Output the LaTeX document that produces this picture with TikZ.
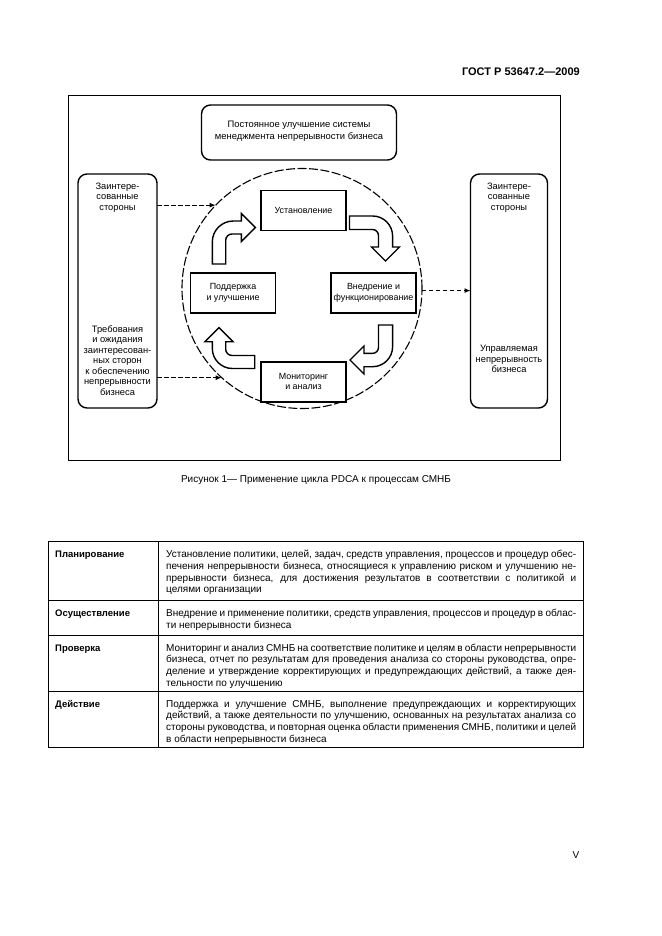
\documentclass[tikz,border=0pt]{standalone}
\usepackage{fontspec}
\setmainfont{Liberation Sans}
\usetikzlibrary{arrows.meta,calc}
\newcommand\dgfont{\fontsize{9.3}{10.5}\selectfont}
\newcommand\pbfont{\fontsize{8.9}{10.5}\selectfont}
\newcommand\tbfont{\fontsize{10}{12}\selectfont}
\begin{document}
\begin{tikzpicture}[x=1pt,y=-1pt,
  rbox/.style={draw, line width=1.4pt, rounded corners=9pt, inner sep=0pt, outer sep=0pt},
  pbox/.style={draw, line width=1.8pt, minimum width=85pt, minimum height=40pt, inner sep=0pt, align=center, font=\pbfont},
  blockarrow/.style={draw, line width=1.4pt, fill=white, line join=miter},
  dasharrow/.style={line width=1.1pt, dash pattern=on 4.5pt off 2.5pt, -{Latex[length=6pt,width=5pt]}},
  lbl/.style={inner sep=0pt, align=center, font=\dgfont},
  tline/.style={inner sep=0pt, anchor=base west, font=\tbfont},
  thead/.style={inner sep=0pt, anchor=base west, font=\fontsize{9.5}{12}\selectfont\bfseries}
]
\useasboundingbox (0,0) rectangle (661,936);
% header
\node[inner sep=0pt, anchor=east, font=\fontsize{11}{13}\selectfont\bfseries] (hdr) at (580,72) {ГОСТ Р 53647.2—2009};
% frame
\draw[line width=0.9pt] (68,95) rectangle (560,460);
% top box
\node[rbox, minimum width=195pt, minimum height=55pt] (top) at (299,132.5) {};
\node[lbl, font=\fontsize{9.4}{11.7}\selectfont] (toptext) at (299,131.5) {Постоянное улучшение системы\\менеджмента непрерывности бизнеса};
% side boxes
\node[rbox, minimum width=79pt, minimum height=234pt] (lbox) at (117.5,291) {};
\node[rbox, minimum width=77pt, minimum height=234pt] (rbox) at (509,291) {};
\node[lbl] (lt1) at (117.5,197.5) {Заинтере-\\сованные\\стороны};
\node[lbl] (lt2) at (117.5,360.2) {Требования\\и ожидания\\заинтересован-\\ных сторон\\к обеспечению\\непрерывности\\бизнеса};
\node[lbl] (rt1) at (509,197.5) {Заинтере-\\сованные\\стороны};
\node[lbl] (rt2) at (509,359.2) {Управляемая\\непрерывность\\бизнеса};
% circle
\node[circle, draw, line width=1.1pt, dash pattern=on 9pt off 2.5pt, minimum size=240pt, inner sep=0pt, outer sep=0pt] (circ) at (302,288.5) {};
% process boxes
\node[pbox] (plan) at (303.5,210.5) {Установление};
\node[pbox] (do) at (373.5,292.8) {Внедрение и\\функционирование};
\node[pbox] (act) at (233,292.8) {Поддержка\\и улучшение};
\node[pbox] (check) at (303.5,381.7) {Мониторинг\\и анализ};
% block arrows
\draw[blockarrow] (212.3,264) -- (212.3,242) .. controls (212.3,230.4) and (221.7,221) .. (233.3,221) -- (241.3,221) -- (241.3,213.5) -- (255.4,227.5) -- (241.3,241.5) -- (241.3,234) -- (232,234) .. controls (228.5,234) and (225.7,236.8) .. (225.7,240.3) -- (225.7,264) -- cycle;
\draw[blockarrow] (349.5,216) -- (372.6,216) .. controls (383.6,216) and (392.6,225) .. (392.6,236) -- (392.6,247) -- (399.5,247) -- (385.5,261) -- (371.5,247) -- (378.5,247) -- (378.5,235.5) .. controls (378.5,232.2) and (375.8,229.5) .. (372.5,229.5) -- (349.5,229.5) -- cycle;
\draw[blockarrow] (378.5,325) -- (392.6,325) -- (392.6,346.7) .. controls (392.6,357.7) and (383.6,366.7) .. (372.6,366.7) -- (364,366.7) -- (364,374) -- (350,360) -- (364,346) -- (364,353.4) -- (372.5,353.4) .. controls (375.8,353.4) and (378.5,350.7) .. (378.5,347.4) -- cycle;
\draw[blockarrow] (254.7,355.5) -- (232,355.5) .. controls (228.5,355.5) and (225.7,352.7) .. (225.7,349.2) -- (225.7,341.7) -- (233,341.7) -- (219,327.7) -- (205,341.7) -- (212.3,341.7) -- (212.3,348.5) .. controls (212.3,359.5) and (221.3,368.5) .. (232.3,368.5) -- (254.7,368.5) -- cycle;
% dashed connectors
\draw[dasharrow] (lbox.east |- circ.136) -- (circ.136);
\draw[dasharrow] (lbox.east |- circ.228) -- (circ.228);
\draw[dasharrow] (circ.-1) -- (circ.-1 -| rbox.west);
% caption
\node[inner sep=0pt, font=\fontsize{10}{12}\selectfont] (cap) at (316,480) {Рисунок 1— Применение цикла PDCA к процессам СМНБ};
% table
\draw[line width=0.9pt] (48,541) rectangle (583,747);
\draw[line width=0.9pt] (48,600) -- (583,600) (48,635) -- (583,635) (48,691) -- (583,691) (158,541) -- (158,747);
\node[thead] (h1) at (55,557.5) {Планирование};
\node[thead] (h2) at (55,616.5) {Осуществление};
\node[thead] (h3) at (55,651) {Проверка};
\node[thead] (h4) at (55,707) {Действие};
\node[tline] (a1) at (166,557.5) {\makebox[410pt][s]{Установление политики, целей, задач, средств управления, процессов и процедур обес-}};
\node[tline] (a2) at (166,569.3) {\makebox[410pt][s]{печения непрерывности бизнеса, относящиеся к управлению риском и улучшению не-}};
\node[tline] (a3) at (166,581.1) {\makebox[410pt][s]{прерывности бизнеса, для достижения результатов в соответствии с политикой и}};
\node[tline] (a4) at (166,592.9) {целями организации};
\node[tline] (b1) at (166,616.5) {\makebox[410pt][s]{Внедрение и применение политики, средств управления, процессов и процедур в облас-}};
\node[tline] (b2) at (166,628.3) {ти непрерывности бизнеса};
\node[tline] (c1) at (166,651) {\makebox[410pt][s]{Мониторинг и анализ СМНБ на соответствие политике и целям в области непрерывности}};
\node[tline] (c2) at (166,662.8) {\makebox[410pt][s]{бизнеса, отчет по результатам для проведения анализа со стороны руководства, опре-}};
\node[tline] (c3) at (166,674.6) {\makebox[410pt][s]{деление и утверждение корректирующих и предупреждающих действий, а также дея-}};
\node[tline] (c4) at (166,686.4) {тельности по улучшению};
\node[tline] (d1) at (166,707) {\makebox[410pt][s]{Поддержка и улучшение СМНБ, выполнение предупреждающих и корректирующих}};
\node[tline] (d2) at (166,718.8) {\makebox[410pt][s]{действий, а также деятельности по улучшению, основанных на результатах анализа со}};
\node[tline] (d3) at (166,730.6) {\makebox[410pt][s]{стороны руководства, и повторная оценка области применения СМНБ, политики и целей}};
\node[tline] (d4) at (166,742.4) {в области непрерывности бизнеса};
% page number
\node[inner sep=0pt, font=\fontsize{10}{12}\selectfont] (pg) at (576,855) {V};
\end{tikzpicture}
\end{document}
